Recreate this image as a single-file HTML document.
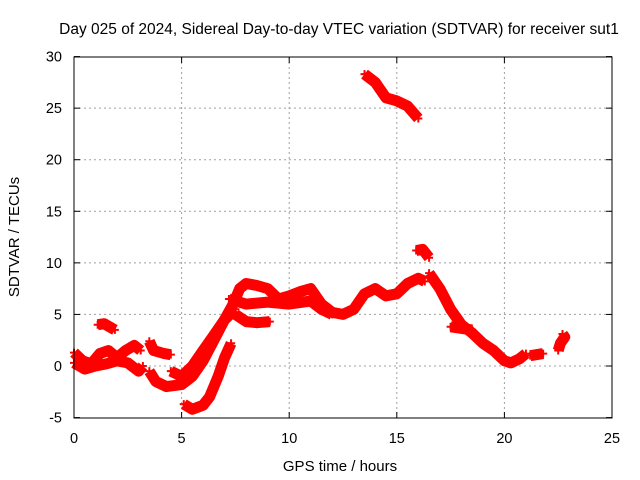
<!DOCTYPE html>
<html><head><meta charset="utf-8"><style>
body{margin:0;background:#fff;}
svg{display:block;font-family:"Liberation Sans",Arial,sans-serif;}
</style></head><body>
<svg id="c" width="640" height="480">
<text x="339" y="34" text-anchor="middle" font-size="15.5">Day 025 of 2024, Sidereal Day-to-day VTEC variation (SDTVAR) for receiver sut1</text>
<text x="340" y="471" text-anchor="middle" font-size="15">GPS time / hours</text>
<text transform="translate(19,237) rotate(-90)" text-anchor="middle" font-size="15">SDTVAR / TECUs</text>
<g id="grid"></g><g id="ticks"></g><g id="marks"></g>
<rect x="74" y="57" width="538" height="361" fill="none" stroke="#000" stroke-width="1"/>
</svg>
<script>
const xTicks=[0,5,10,15,20,25];
const yTicks=[-5,0,5,10,15,20,25,30];
const trackA=[[0,1.3],[0.4,0.5],[0.8,0.2],[1.2,1.2],[1.6,1.5],[2,0.8],[2.4,1.5],[2.8,2.0],[3.1,1.5]];
const trackB=[[0,0.3],[0.5,-0.3],[1,0],[1.5,0.2],[2,0.5],[2.5,0.3],[3,-0.5],[3.2,0]];
const trackC=[[1.1,4.0],[1.4,4.1],[1.9,3.5]];
const trackD=[[3.5,2.4],[3.7,1.5],[4.2,1.2],[4.5,1.1]];
const trackE=[[3.5,-0.5],[3.8,-1.5],[4.3,-2.0],[5,-1.8],[5.5,-1.0],[6,0.5],[6.5,2.5],[7,4.5],[7.4,6],[7.7,7.5],[8,8],[8.5,7.8],[9,7.5],[9.5,6.5],[10,6.8],[10.5,7.2],[11,7.5],[11.5,6],[12,5.2],[12.5,5],[13,5.5],[13.5,7],[14,7.5],[14.5,6.8],[15,7],[15.5,8],[16,8.5],[16.3,8.2]];
const trackF=[[7.2,6.5],[8,6],[9,6.2],[10,6],[11,6.3],[11.5,5.5],[12,5]];
const trackG=[[4.5,-0.5],[5,-1],[5.5,0],[6,1.5],[6.5,3],[7,4.5],[7.5,5.5]];
const trackH=[[5.1,-3.7],[5.5,-4.2],[6,-3.8],[6.3,-3],[6.7,-1],[7,0.8],[7.3,2.2]];
const trackI=[[7.5,5],[8,4.3],[8.5,4.2],[9.1,4.3]];
const trackJ=[[13.5,28.3],[14,27.5],[14.5,26],[15,25.7],[15.5,25.2],[16,24]];
const trackK=[[15.9,11.2],[16.2,11.3],[16.5,10.5]];
const trackL=[[16.5,9],[17,7.5],[17.5,5.5],[18,4],[18.5,3.2],[19,2.2],[19.5,1.5],[20,0.5],[20.3,0.3],[20.7,0.7],[21,1.2]];
const trackM=[[17.5,3.8],[18.5,3.5]];
const trackN=[[22.5,1.5],[22.6,2.2],[22.8,2.8],[22.7,3.1]];
const trackO=[[21.2,1.0],[21.8,1.2]];
const tracks=[trackA,trackB,trackC,trackD,trackE,trackF,trackG,trackH,trackI,trackJ,trackK,trackL,trackM,trackN,trackO];
const X=t=>74+t*538/25, Y=v=>366-v*361/35;
const NS="http://www.w3.org/2000/svg";
const grid=document.getElementById('grid'),ticks=document.getElementById('ticks'),marks=document.getElementById('marks');
function mk(tag,at,parent){const e=document.createElementNS(NS,tag);for(const k in at)e.setAttribute(k,at[k]);parent.appendChild(e);return e;}
xTicks.forEach(t=>{
  if(t>0&&t<25){const g=mk('line',{x1:X(t),x2:X(t),y1:57,y2:418,stroke:'#a0a0a0','stroke-dasharray':'2,3'},grid);
  
  }
  mk('line',{x1:X(t),x2:X(t),y1:418,y2:412,stroke:'#000'},ticks);
  mk('line',{x1:X(t),x2:X(t),y1:57,y2:63,stroke:'#000'},ticks);
  const l=mk('text',{x:X(t),y:443,'text-anchor':'middle','font-size':'14.5'},ticks);l.textContent=t;
  
  
});
yTicks.forEach(v=>{
  if(v>-5&&v<30){const g=mk('line',{x1:74,x2:612,y1:Y(v),y2:Y(v),stroke:'#a0a0a0','stroke-dasharray':'2,3'},grid);
  
  }
  mk('line',{x1:74,x2:80,y1:Y(v),y2:Y(v),stroke:'#000'},ticks);
  mk('line',{x1:612,x2:606,y1:Y(v),y2:Y(v),stroke:'#000'},ticks);
  const l=mk('text',{x:62,y:Y(v)+5,'text-anchor':'end','font-size':'14.5'},ticks);l.textContent=v;
  
  
});
tracks.forEach(tr=>{
  const d=tr.map((p,i)=>(i?'L':'M')+X(p[0]).toFixed(1)+','+Y(p[1]).toFixed(1)).join('');
  const p=mk('path',{d:d,fill:'none',stroke:'#ff0000','stroke-width':11,'stroke-linejoin':'round','stroke-linecap':'butt'},marks);
  
  
  tr.forEach(pt=>{const x=X(pt[0]),y=Y(pt[1]);
    const m=mk('path',{d:`M${x-4},${y}h8M${x},${y-4}v8`,stroke:'#ff0000','stroke-width':2},marks);
    
    
  });
});
</script>
</body></html>
